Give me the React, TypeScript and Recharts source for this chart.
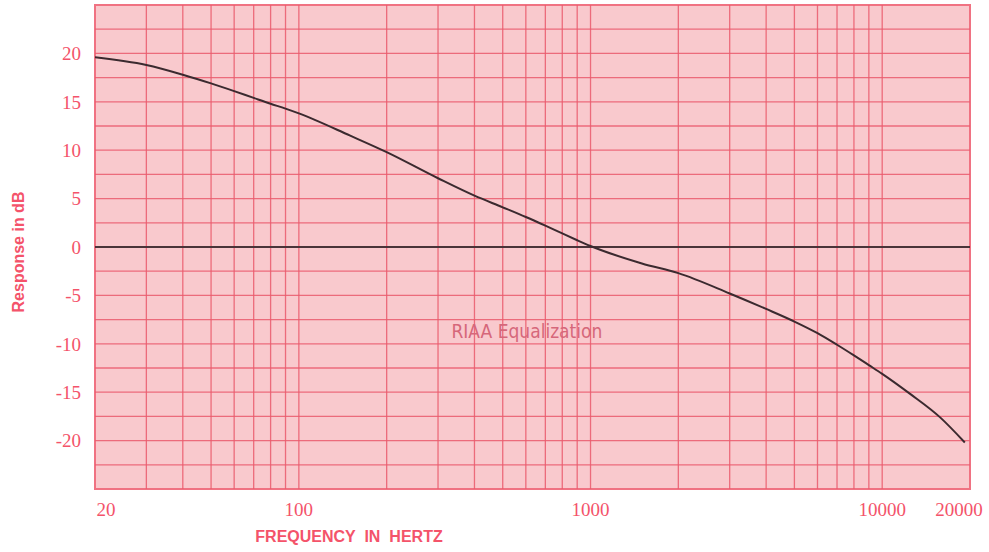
import React from 'react';
import {
  LineChart,
  Line,
  XAxis,
  YAxis,
  CartesianGrid,
  ReferenceLine,
  ReferenceArea,
  ReferenceDot,
} from 'recharts';

// frequency (Hz) and response (dB)
const freqs = [
  20, 30, 40, 50, 60, 70, 80, 90, 100, 150, 200, 300, 400, 500, 600, 700, 800, 900,
  1000, 1500, 2000, 3000, 4000, 5000, 6000, 7000, 8000, 9000, 10000, 12500, 15800, 19200,
];
const response = [
  19.6, 18.8, 17.8, 16.9, 16.1, 15.4, 14.8, 14.3, 13.8, 11.5, 9.8, 7.1, 5.3, 4.1, 3.1, 2.2, 1.4, 0.7,
  0.1, -1.7, -2.7, -4.8, -6.4, -7.7, -8.9, -10.1, -11.2, -12.2, -13.1, -15.2, -17.6, -20.2,
];

const xTicks = [20, 100, 1000, 10000, 20000];
const yTicks = [-20, -15, -10, -5, 0, 5, 10, 15, 20];
const gridFreqs = [
  30, 40, 50, 60, 70, 80, 90, 100, 200, 300, 400, 500, 600, 700, 800, 900, 1000,
  2000, 3000, 4000, 5000, 6000, 7000, 8000, 9000, 10000,
];
const gridDb = [-22.5, -20, -17.5, -15, -12.5, -10, -7.5, -5, -2.5, 2.5, 5, 7.5, 10, 12.5, 15, 17.5, 20, 22.5];

const data = freqs.map((f, i) => ({ freq: f, db: response[i] }));

const LABEL = '#f4536a';
const GRID = '#ea5a6c';

const XTick = (props: any) => {
  const { x, y, payload } = props;
  let dx = 0;
  if (payload.value === 20) dx = 11;
  if (payload.value === 20000) dx = -11;
  return (
    <text
      x={x + dx}
      y={y + 19}
      textAnchor="middle"
      fill={LABEL}
      fontFamily="'Liberation Serif', serif"
      fontSize={19}
    >
      {payload.value}
    </text>
  );
};

export default function App() {
  return (
    <div style={{ position: 'absolute', left: 0, top: 0 }}>
      <LineChart width={989} height={552} data={data} margin={{ top: 5, right: 19, bottom: 0, left: 0 }}>
        <CartesianGrid fill="#f9c9cd" horizontal={false} vertical={false} />
        {gridFreqs.map((f) => (
          <ReferenceLine key={'v' + f} x={f} stroke={GRID} strokeWidth={1.3} strokeOpacity={0.85} />
        ))}
        {gridDb.map((d) => (
          <ReferenceLine key={'h' + d} y={d} stroke={GRID} strokeWidth={1.3} strokeOpacity={0.85} />
        ))}
        <ReferenceArea x1={20} x2={20000} y1={-25} y2={25} fill="none" stroke="#f07282" strokeWidth={2} />
        <ReferenceLine y={0} stroke="#4a3439" strokeWidth={1.8} />
        <ReferenceDot
          x={605}
          y={-8.7}
          r={0}
          fill="none"
          stroke="none"
          label={{
            value: 'RIAA Equalization',
            position: 'center',
            fill: '#d6677a',
            fontSize: 19,
            fontWeight: 500,
            fontFamily: "'Liberation Sans Narrow', 'DejaVu Sans Condensed', sans-serif",
          }}
        />
        <XAxis
          dataKey="freq"
          type="number"
          scale="log"
          domain={[20, 20000]}
          ticks={xTicks}
          interval={0}
          height={63}
          axisLine={false}
          tickLine={false}
          tick={<XTick />}
          allowDataOverflow
          label={{
            content: () => (
              <text
                x={349}
                y={542}
                textAnchor="middle"
                fill={LABEL}
                fontFamily="'Liberation Sans', Arial, sans-serif"
                fontWeight="bold"
                fontSize={16}
                wordSpacing={4.5}
              >
                FREQUENCY IN HERTZ
              </text>
            ),
          }}
        />
        <YAxis
          type="number"
          domain={[-25, 25]}
          ticks={yTicks}
          interval={0}
          width={95}
          axisLine={false}
          tickLine={false}
          tickMargin={8}
          tick={{ fill: LABEL, fontSize: 19, fontFamily: "'Liberation Serif', serif" }}
          label={{
            content: () => (
              <text
                x={0}
                y={0}
                transform="translate(24 252) rotate(-90)"
                textAnchor="middle"
                fill={LABEL}
                fontFamily="'Liberation Sans', Arial, sans-serif"
                fontWeight="bold"
                fontSize={16}
              >
                Response in dB
              </text>
            ),
          }}
        />
        <Line
          type="monotone"
          dataKey="db"
          stroke="#3b2a2f"
          strokeWidth={2}
          dot={false}
          isAnimationActive={false}
        />
      </LineChart>
    </div>
  );
}
